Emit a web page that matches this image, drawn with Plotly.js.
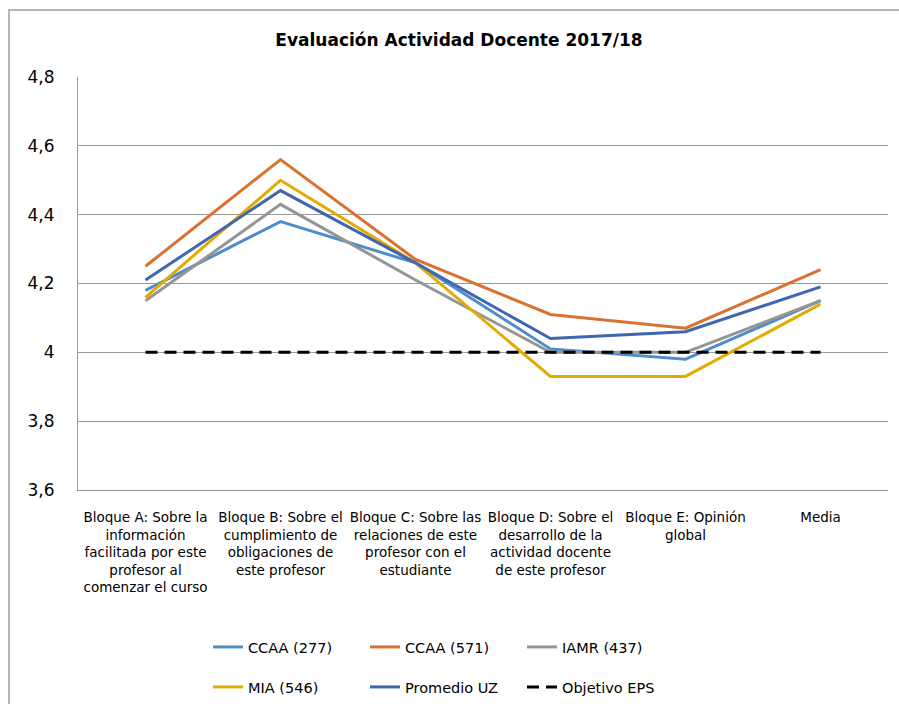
<!DOCTYPE html>
<html>
<head>
<meta charset="utf-8">
<script src="https://cdn.plot.ly/plotly-3.0.1.min.js"></script>
<style>html,body{margin:0;padding:0;background:#fff;}#chart{width:899px;height:704px;}</style>
</head>
<body>
<div id="chart"></div>
<script>
const categories = [
  "Bloque A: Sobre la<br>información<br>facilitada por este<br>profesor al<br>comenzar el curso",
  "Bloque B: Sobre el<br>cumplimiento de<br>obligaciones de<br>este profesor",
  "Bloque C: Sobre las<br>relaciones de este<br>profesor con el<br>estudiante",
  "Bloque D: Sobre el<br>desarrollo de la<br>actividad docente<br>de este profesor",
  "Bloque E: Opinión<br>global",
  "Media"
];
const ccaa277 = [4.18, 4.38, 4.26, 4.01, 3.98, 4.15];
const ccaa571 = [4.25, 4.56, 4.27, 4.11, 4.07, 4.24];
const iamr437 = [4.15, 4.43, 4.21, 4.00, 4.00, 4.15];
const mia546  = [4.16, 4.50, 4.26, 3.93, 3.93, 4.14];
const promedioUZ = [4.21, 4.47, 4.26, 4.04, 4.06, 4.19];
const objetivoEPS = [4, 4, 4, 4, 4, 4];
const yTicks = [3.6, 3.8, 4.0, 4.2, 4.4, 4.6, 4.8];

const FONT = '"DejaVu Sans", "Liberation Sans", Arial, sans-serif';

function tr(name, y, color, legend, dash) {
  return {
    type: 'scatter', mode: 'lines', x: categories, y: y, name: name,
    line: {color: color, width: 3, dash: dash || 'solid'},
    legend: legend, hoverinfo: 'skip'
  };
}

const data = [
  tr('CCAA (277)', ccaa277, '#4E8DC9', 'legend'),
  tr('CCAA (571)', ccaa571, '#D9722E', 'legend'),
  tr('IAMR (437)', iamr437, '#959595', 'legend'),
  tr('MIA (546)', mia546, '#E3AA00', 'legend2'),
  tr('Promedio UZ', promedioUZ, '#3F66B0', 'legend2'),
  tr('Objetivo EPS', objetivoEPS, '#000000', 'legend2', '12px,7px')
];

const PL = 78, PR = 888, PT = 77, PB = 490;
const PW = PR - PL, PH = PB - PT;
const px2x = p => (p - PL) / PW;
const py2y = p => (PB - p) / PH;

const legendCommon = {
  orientation: 'h', xanchor: 'left', yanchor: 'middle',
  xref: 'container', yref: 'container',
  font: {family: FONT, size: 14.5, color: '#000'},
  entrywidth: 112, entrywidthmode: 'pixels',
  bgcolor: 'rgba(0,0,0,0)', borderwidth: 0, traceorder: 'normal'
};

const layout = {
  width: 899, height: 704,
  paper_bgcolor: '#ffffff', plot_bgcolor: '#ffffff',
  separators: ',.',
  margin: {l: PL, r: 899 - PR, t: PT, b: 704 - PB, pad: 0, autoexpand: false},
  title: {
    text: '<b>Evaluación Actividad Docente 2017/18</b>',
    font: {family: FONT, size: 17, color: '#000'},
    x: 459 / 899, xref: 'container', xanchor: 'center',
    y: 1 - 40 / 704, yref: 'container', yanchor: 'middle'
  },
  xaxis: {
    type: 'category', range: [-0.5, 5.5], tickangle: 0, showgrid: false, zeroline: false,
    showline: true, linecolor: '#9a9a9a', linewidth: 1, ticks: '',
    ticklabelstandoff: 15, automargin: false,
    tickfont: {family: FONT, size: 13.5, color: '#000'},
    fixedrange: true
  },
  yaxis: {
    range: [3.6, 4.8], tickvals: yTicks, showgrid: true,
    gridcolor: '#9a9a9a', gridwidth: 1, zeroline: false,
    showline: true, linecolor: '#9a9a9a', linewidth: 1, ticks: '',
    ticklabelstandoff: 19, automargin: false,
    tickfont: {family: FONT, size: 17, color: '#000'},
    fixedrange: true
  },
  legend: Object.assign({}, legendCommon, {x: 208 / 899, y: 1 - 647 / 704}),
  legend2: Object.assign({}, legendCommon, {x: 208 / 899, y: 1 - 687 / 704}),
  shapes: [{
    type: 'rect', xref: 'paper', yref: 'paper',
    x0: px2x(9), x1: px2x(930), y0: py2y(730), y1: py2y(10),
    line: {color: '#a0a0a0', width: 1.5}, fillcolor: 'rgba(0,0,0,0)', layer: 'below'
  }],
  hovermode: false, showlegend: true
};

Plotly.newPlot('chart', data, layout, {displayModeBar: false, staticPlot: true});
</script>
</body>
</html>
